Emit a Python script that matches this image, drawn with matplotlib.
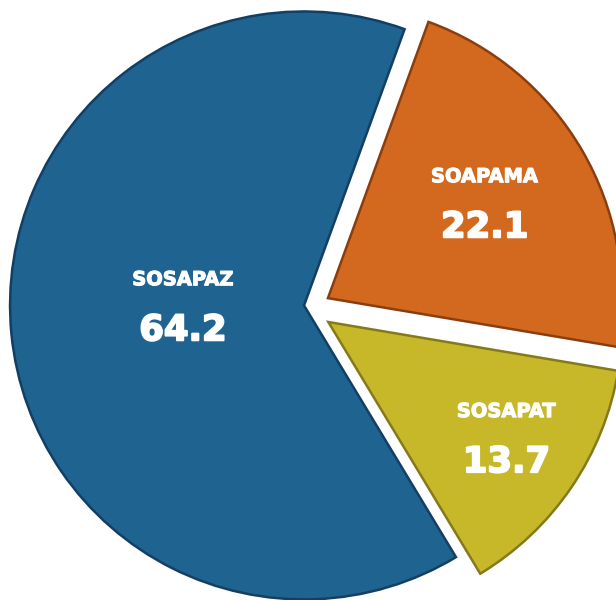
import numpy as np
import matplotlib.pyplot as plt
import matplotlib.patheffects as pe

labels = ['SOSAPAZ', 'SOSAPAT', 'SOAPAMA']
values = [64.2, 13.7, 22.1]
colors = ['#1f6390', '#c7b82a', '#d2691f']
edges = ['#123f63', '#857a1a', '#8b3d10']
# slice offsets: distance from centre and direction (deg)
off_dist = [0.0, 0.1, 0.085]
off_dir = [0.0, -34.3, 17.0]
label_r = [0.412, 0.716, 0.63]
label_shift = [7, -2, -2]  # degrees, nudge label angle

fig = plt.figure(figsize=(6.16, 6.0), dpi=100)
ax = fig.add_axes([0, 0, 1, 1])

wedges, _ = ax.pie(values, colors=colors, startangle=70,
                   counterclock=True, radius=1.0,
                   wedgeprops=dict(linewidth=1.8))
for w, ec, d, a in zip(wedges, edges, off_dist, off_dir):
    w.set_edgecolor(ec)
    a = np.deg2rad(a)
    w.set_center((d * np.cos(a), d * np.sin(a)))

fx_name = [pe.withStroke(linewidth=0.8, foreground='white')]
fx_num = [pe.withStroke(linewidth=1.4, foreground='white')]
for w, lab, v, r, sh in zip(wedges, labels, values, label_r, label_shift):
    ang = np.deg2rad((w.theta1 + w.theta2) / 2 - sh)
    cx, cy = w.center
    x = cx + r * np.cos(ang)
    y = cy + r * np.sin(ang)
    ax.text(x, y + 0.077, lab, ha='center', va='center', color='white',
            fontsize=14, fontweight='bold', path_effects=fx_name)
    ax.text(x, y - 0.095, f'{v:.1f}', ha='center', va='center', color='white',
            fontsize=25.5, fontweight='bold', path_effects=fx_num)

ax.set_xlim(-1.034, 1.061)
ax.set_ylim(-1.002, 1.039)
ax.set_aspect('equal')
ax.axis('off')

fig.savefig('out.png', dpi=100)
